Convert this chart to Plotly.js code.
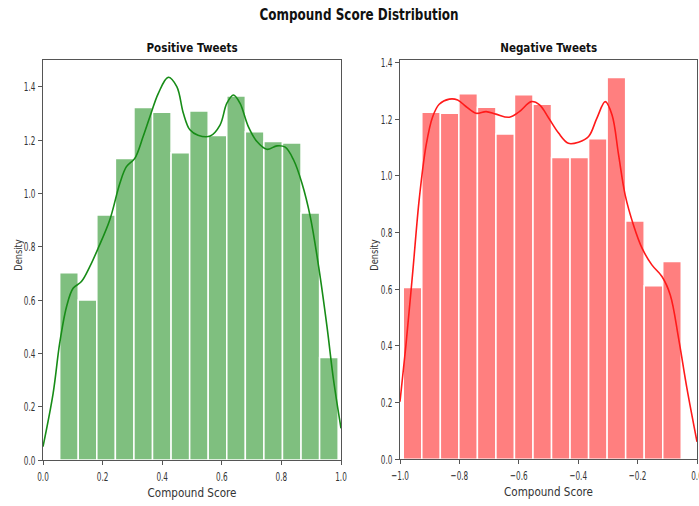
<!DOCTYPE html>
<html>
<head>
<meta charset="utf-8">
<script src="https://cdn.plot.ly/plotly-3.0.1.min.js"></script>
<style>
  html, body { margin: 0; padding: 0; background: #fff; }
  #chart { width: 699px; height: 506px; }
</style>
</head>
<body>
<div id="chart"></div>
<script>
// Histogram bins (density) for positive tweets' compound scores
const posBinStart = 0.056;
const posBinWidth = 0.0623;
const posDensity = [0.702, 0.600, 0.919, 1.131, 1.322, 1.304, 1.152, 1.309,
                    1.217, 1.365, 1.231, 1.194, 1.189, 0.926, 0.384];

// Histogram bins (density) for negative tweets' compound scores
const negBinStart = -0.989;
const negBinWidth = 0.0624;
const negDensity = [0.606, 1.225, 1.221, 1.290, 1.242, 1.148, 1.286, 1.253,
                    1.065, 1.065, 1.131, 1.347, 0.841, 0.612, 0.698];

// Kernel density estimate, positive tweets
const posKdeX = [0.000, 0.034, 0.056, 0.079, 0.101, 0.129, 0.157, 0.185, 0.224, 0.258,
                 0.280, 0.308, 0.336, 0.359, 0.387, 0.420, 0.449, 0.471, 0.493, 0.520,
                 0.561, 0.594, 0.617, 0.639, 0.661, 0.689, 0.718, 0.751, 0.785, 0.813,
                 0.841, 0.869, 0.897, 0.925, 0.953, 0.975, 1.000];
const posKdeY = [0.050, 0.250, 0.438, 0.575, 0.644, 0.669, 0.725, 0.794, 0.900, 1.038,
                 1.100, 1.131, 1.213, 1.288, 1.375, 1.435, 1.400, 1.300, 1.238, 1.218,
                 1.215, 1.256, 1.338, 1.369, 1.338, 1.250, 1.194, 1.165, 1.178, 1.173,
                 1.125, 1.038, 0.912, 0.725, 0.500, 0.300, 0.119];

// Kernel density estimate, negative tweets
const negKdeX = [-1.000, -0.980, -0.957, -0.935, -0.912, -0.890, -0.868, -0.834, -0.806, -0.778,
                 -0.744, -0.710, -0.677, -0.632, -0.598, -0.558, -0.530, -0.500, -0.466, -0.433,
                 -0.399, -0.365, -0.337, -0.309, -0.286, -0.264, -0.242, -0.214, -0.185, -0.152,
                 -0.118, -0.090, -0.062, -0.034, 0.000];
const negKdeY = [0.203, 0.403, 0.662, 0.921, 1.109, 1.209, 1.253, 1.271, 1.268, 1.245,
                 1.221, 1.227, 1.218, 1.207, 1.227, 1.262, 1.251, 1.205, 1.151, 1.115,
                 1.119, 1.139, 1.204, 1.262, 1.215, 1.074, 0.933, 0.827, 0.745, 0.686,
                 0.645, 0.580, 0.427, 0.251, 0.062];

const FONT = '"DejaVu Sans", sans-serif';

function centers(start, width, n) {
  return Array.from({length: n}, (_, i) => start + width * (i + 0.5));
}

const traces = [
  {
    type: 'bar',
    x: centers(posBinStart, posBinWidth, posDensity.length),
    y: posDensity,
    width: posBinWidth,
    marker: {color: 'rgba(0,128,0,0.5)', line: {color: '#ffffff', width: 1.5}},
    xaxis: 'x', yaxis: 'y'
  },
  {
    type: 'scatter', mode: 'lines',
    x: posKdeX, y: posKdeY,
    line: {color: '#178c17', width: 1.6, shape: 'spline', smoothing: 1},
    xaxis: 'x', yaxis: 'y'
  },
  {
    type: 'bar',
    x: centers(negBinStart, negBinWidth, negDensity.length),
    y: negDensity,
    width: negBinWidth,
    marker: {color: 'rgba(255,0,0,0.5)', line: {color: '#ffffff', width: 1.5}},
    xaxis: 'x2', yaxis: 'y2'
  },
  {
    type: 'scatter', mode: 'lines',
    x: negKdeX, y: negKdeY,
    line: {color: '#ff1a1a', width: 1.6, shape: 'spline', smoothing: 1},
    xaxis: 'x2', yaxis: 'y2'
  }
];

const axisCommon = {
  showline: true, mirror: true, linecolor: '#555', linewidth: 1,
  ticks: 'outside', ticklen: 4, tickcolor: '#555', tickwidth: 1,
  showgrid: false, zeroline: false,
  tickfont: {family: FONT, size: 13, color: '#333'},
  tickformat: '.1f',
  ticklabeloverflow: 'allow'
};

const xTitleFont = {family: FONT, size: 13, color: '#333'};
const yTitleFont = {family: FONT, size: 11, color: '#333'};

const layout = {
  width: 699, height: 506,
  margin: {l: 0, r: 0, t: 0, b: 0},
  paper_bgcolor: '#fff', plot_bgcolor: '#fff',
  showlegend: false,
  bargap: 0,
  title: {
    text: '<b>Compound Score Distribution</b>',
    font: {family: FONT, size: 15, color: '#111'},
    x: 0.5136, xanchor: 'center', y: 0.970, yanchor: 'middle'
  },
  xaxis: Object.assign({}, axisCommon, {
    domain: [43 / 699, 341 / 699], range: [0, 1], anchor: 'y',
    tickvals: [0, 0.2, 0.4, 0.6, 0.8, 1.0],
    title: {text: 'Compound Score', font: xTitleFont, standoff: 5}
  }),
  yaxis: Object.assign({}, axisCommon, {
    domain: [1 - 460 / 506, 1 - 60 / 506], range: [0, 1.5], anchor: 'x',
    tickvals: [0, 0.2, 0.4, 0.6, 0.8, 1.0, 1.2, 1.4]
  }),
  xaxis2: Object.assign({}, axisCommon, {
    domain: [400 / 699, 697 / 699], range: [-1, 0], anchor: 'y2',
    tickvals: [-1.0, -0.8, -0.6, -0.4, -0.2, 0.0],
    title: {text: 'Compound Score', font: xTitleFont, standoff: 5}
  }),
  yaxis2: Object.assign({}, axisCommon, {
    domain: [1 - 459.3 / 506, 1 - 60 / 506], range: [0, 1.409], anchor: 'x2',
    tickvals: [0, 0.2, 0.4, 0.6, 0.8, 1.0, 1.2, 1.4]
  }),
  annotations: [
    {text: '<b>Positive Tweets</b>', xref: 'paper', yref: 'paper',
     x: 192 / 699, y: 1 - 47 / 506, xanchor: 'center', yanchor: 'middle',
     showarrow: false, font: {family: FONT, size: 13, color: '#111'}},
    {text: '<b>Negative Tweets</b>', xref: 'paper', yref: 'paper',
     x: 548.5 / 699, y: 1 - 47 / 506, xanchor: 'center', yanchor: 'middle',
     showarrow: false, font: {family: FONT, size: 13, color: '#111'}},
    // y-axis titles, placed close to the tick labels
    {text: 'Density', xref: 'paper', yref: 'paper', textangle: -90,
     x: 18 / 699, y: 1 - 255 / 506, xanchor: 'center', yanchor: 'middle',
     showarrow: false, font: yTitleFont},
    {text: 'Density', xref: 'paper', yref: 'paper', textangle: -90,
     x: 374 / 699, y: 1 - 255 / 506, xanchor: 'center', yanchor: 'middle',
     showarrow: false, font: yTitleFont}
  ]
};

// Narrow the lettering along its baseline, keeping each label's anchor fixed.
function squeeze(el, s, anchor) {
  const bb = el.getBBox();
  const a = anchor || el.getAttribute('text-anchor') || 'middle';
  const ax = a === 'end' ? bb.x + bb.width : a === 'start' ? bb.x : bb.x + bb.width / 2;
  const t = el.getAttribute('transform') || '';
  el.setAttribute('transform', `${t} translate(${ax},0) scale(${s},1) translate(${-ax},0)`);
}

Plotly.newPlot('chart', traces, layout, {displayModeBar: false, staticPlot: true}).then(gd => {
  gd.querySelectorAll('.xtick text, .x2tick text').forEach(el => squeeze(el, 0.56, 'middle'));
  gd.querySelectorAll('.ytick text, .y2tick text').forEach(el => squeeze(el, 0.56, 'end'));
  gd.querySelectorAll('.gtitle').forEach(el => squeeze(el, 0.8, 'middle'));
  gd.querySelectorAll('.xtitle, .x2title').forEach(el => squeeze(el, 0.8, 'middle'));
  gd.querySelectorAll('.annotation-text').forEach(el => {
    squeeze(el, el.textContent === 'Density' ? 0.75 : 0.8, 'middle');
  });
});
</script>
</body>
</html>
